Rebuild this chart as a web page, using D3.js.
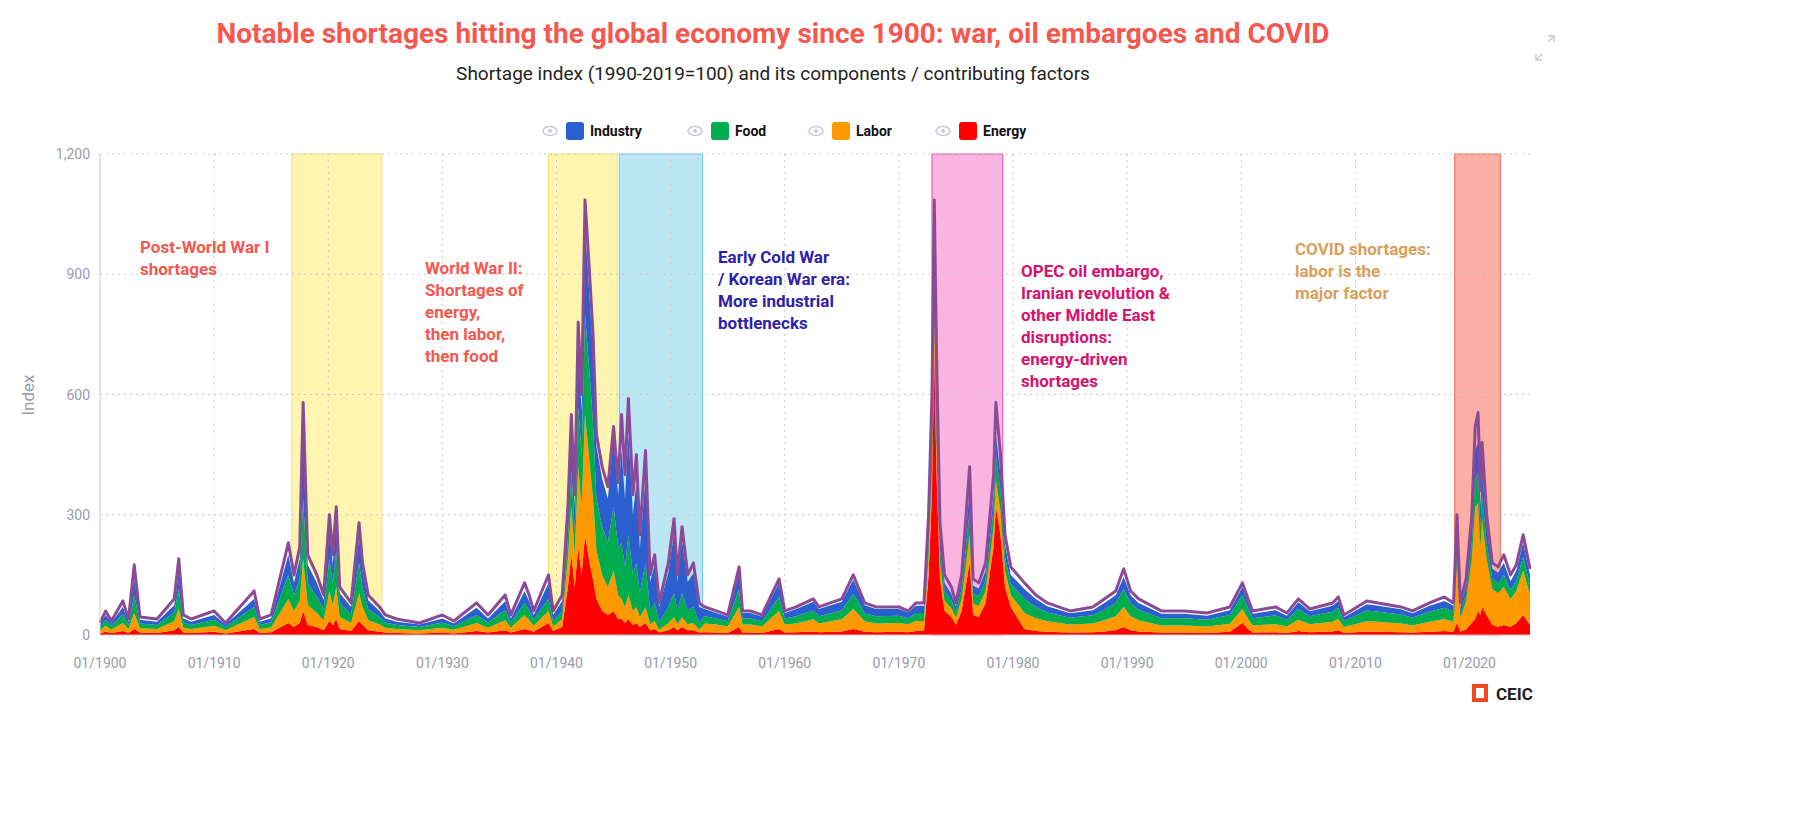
<!doctype html>
<html>
<head>
<meta charset="utf-8">
<style>
body { margin:0; background:#fff; font-family: Roboto, "Noto Sans", sans-serif; }
svg text { font-family: Roboto, "Noto Sans", sans-serif; }
</style>
<script src="https://cdn.jsdelivr.net/npm/d3@7"></script>
</head>
<body>
<svg id="chart" width="1812" height="830"></svg>
<script>
// decimal years of each point
var dates = [
  1900,1900.5,1901,1902,1902.5,1903,1903.5,1905,1906.5,1906.9,1907.3,1908,1910,1911,1913.5,1914,1915,1916.5,1917,1917.5,1917.8,1918.2,1919,1919.6,1920.1,1920.4,1920.7,1921,1922,1922.7,1923,1923.5,1924.5,1925,1926,1928,1930,1931,1933,1934,1935.5,1936,1937.2,1937.6,1938,
  1939.3,1939.7,1940.5,1941.0,1941.3,1941.6,1941.9,1942.2,1942.5,1942.9,1943.2,1943.5,1944,1944.5,1945,1945.4,
  1945.7,1946.0,1946.3,1946.7,1947.0,1947.3,1947.8,1948.2,1948.6,1949,1949.8,1950.3,1950.6,1951,1951.5,1952,1952.5,
  1953,1954,1955,1956.0,1956.3,1957,1958,1959.5,1960,1961,1962.5,1963,1965,1966,1967,1968,1970,1970.8,1971.5,1972.2,
  1972.6,1972.9,1973.1,1973.3,1973.6,1974.0,1974.6,1975,1975.5,1976.2,1976.5,1977,1977.6,1978.3,1978.5,1978.9,1979.3,1979.8,
  1981,1982,1983,1985,1987,1988,1989,1989.7,1990.3,1991,1993,1995,1997,1999,2000.1,2000.6,2001,2003,2004,2005,2006,2008,2008.5,2009,2011,2012,2014,2015,2016.5,2017.8,2018.6,
  2018.9,2019.2,2019.7,2020.2,2020.5,2020.75,2020.95,2021.1,2021.5,2022.0,2022.5,2023.0,2023.6,2024.1,2024.7,2025.3
];
var total = [
  30,60,35,85,40,175,45,40,90,190,50,40,60,30,110,40,50,230,150,220,580,200,150,100,300,200,320,120,80,280,180,100,70,50,40,30,50,35,80,50,100,50,130,100,60,
  150,60,100,320,550,350,780,600,1085,900,750,500,420,370,520,380,
  550,400,590,350,450,250,460,150,200,80,180,290,150,270,150,180,80,
  70,60,50,170,60,60,50,140,60,70,90,70,90,150,80,70,70,60,80,80,
  300,600,1085,700,280,150,120,80,150,420,140,130,180,400,580,450,250,170,
  130,100,80,60,70,90,110,165,110,90,60,60,55,70,130,90,60,70,55,90,65,80,95,50,85,80,70,60,80,95,80,
  300,80,140,300,520,555,360,480,300,180,170,200,150,175,250,165
];
var energy = [
  4,8,5,10,5,15,6,5,12,20,6,5,8,4,15,5,7,30,20,30,60,25,20,12,35,25,40,15,10,35,25,12,8,6,5,4,6,4,10,6,12,6,15,12,8,
  30,10,20,120,200,120,220,150,250,180,140,90,60,50,60,40,
  40,30,40,25,30,20,30,12,15,6,12,20,12,20,12,12,6,
  7,6,5,20,6,6,5,15,6,7,9,7,9,15,8,7,8,7,10,10,
  150,350,700,400,140,60,45,25,60,180,50,45,80,220,320,250,120,70,
  15,10,8,6,7,9,12,20,12,9,6,6,5,8,30,15,6,7,5,10,7,9,12,5,9,8,7,6,8,10,8,
  30,8,14,30,40,60,50,70,50,25,20,25,20,30,50,25
];
var labor = [
  8,15,9,20,10,40,11,10,22,45,12,10,15,8,30,10,12,60,40,55,130,50,35,25,75,50,80,30,20,70,45,25,18,12,10,8,12,9,20,12,25,12,35,25,15,
  30,12,20,70,120,80,200,170,300,250,200,120,90,70,100,60,
  50,40,60,35,40,25,40,15,20,8,18,25,15,25,15,18,8,
  22,20,16,50,20,20,16,45,20,22,30,22,30,50,26,22,22,20,25,25,
  40,70,100,80,40,25,22,18,30,70,28,28,30,50,70,60,40,30,
  40,32,26,20,22,28,35,50,35,28,18,18,16,20,35,25,18,20,16,28,20,24,28,15,25,25,22,18,25,30,25,
  150,35,70,160,280,270,170,220,140,90,85,95,70,80,110,75
];
var food = [
  8,15,9,22,10,45,12,10,22,50,13,10,15,8,25,10,13,60,40,55,150,55,40,28,80,55,90,35,22,75,50,28,18,13,10,8,13,9,20,13,25,13,30,25,15,
  30,12,20,50,90,60,150,130,250,220,190,130,120,110,160,120,
  140,100,150,90,110,60,110,35,45,18,40,60,35,60,35,40,18,
  18,15,13,45,15,15,13,35,15,18,22,18,22,38,20,18,18,15,20,20,
  40,60,80,70,35,25,20,16,25,60,25,25,28,45,60,50,35,28,
  35,28,22,17,20,26,32,45,32,26,18,18,17,22,35,26,18,22,17,27,20,25,28,15,27,25,22,19,25,28,25,
  40,12,20,40,70,75,50,60,40,25,25,30,22,25,35,25
];
var industry = [
  6,12,7,18,8,40,9,8,18,40,10,8,12,6,20,8,10,50,30,50,140,45,35,22,70,45,75,25,18,65,40,22,15,10,8,6,10,7,18,10,22,10,30,22,12,
  40,16,25,50,90,60,150,110,220,190,170,130,120,110,170,130,
  230,170,250,150,200,110,210,70,95,38,85,150,70,130,70,85,38,
  18,14,12,40,14,14,12,35,14,18,22,18,22,35,20,18,17,14,18,18,
  30,50,70,60,30,20,15,12,20,50,20,18,22,35,50,40,30,22,
  25,20,16,11,13,17,20,30,20,17,11,11,10,12,20,15,11,13,10,17,12,15,17,9,16,15,13,11,15,17,15,
  40,12,20,40,70,75,50,60,40,25,25,30,22,25,35,25
];
var seriesNames = ["Industry", "Food", "Labor", "Energy"];
var seriesColors = {Industry:"#2b5fd0", Food:"#00ad4e", Labor:"#ff9900", Energy:"#ff0000"};
var yTicks = [0, 300, 600, 900, 1200];
var xTicks = [1900,1910,1920,1930,1940,1950,1960,1970,1980,1990,2000,2010,2020];
var bands = [
  {from:1916.8, to:1924.7, fill:"#fff5b0", stroke:"#f7e36b"},
  {from:1939.3, to:1945.3, fill:"#fff5b0", stroke:"#f7e36b"},
  {from:1945.5, to:1952.8, fill:"#bde6f5", stroke:"#6ec6ea"},
  {from:1972.9, to:1979.1, fill:"#f9b4e0", stroke:"#e94fb5"},
  {from:2018.7, to:2022.7, fill:"#fcaea5", stroke:"#f06a5c"}
];
var notes = [
  {x:140, y:253, color:"#f6584f", lines:["Post-World War I","shortages"]},
  {x:425, y:274, color:"#f6584f", lines:["World War II:","Shortages of","energy,","then labor,","then food"]},
  {x:718, y:263, color:"#2e22a8", lines:["Early Cold War","/ Korean War era:","More industrial","bottlenecks"]},
  {x:1021, y:277, color:"#d6126e", lines:["OPEC oil embargo,","Iranian revolution &","other Middle East","disruptions:","energy-driven","shortages"]},
  {x:1295, y:255, color:"#d9a05b", lines:["COVID shortages:","labor is the","major factor"]}
];

var svg = d3.select("#chart");
var x = d3.scaleLinear().domain([1900, 2025.3]).range([100, 1530]);
var y = d3.scaleLinear().domain([0, 1200]).range([635, 154]);

svg.append("text").attr("x", 773).attr("y", 43).attr("text-anchor", "middle")
  .attr("font-size", 28).attr("font-weight", "bold").attr("fill", "#f6584f")
  .text("Notable shortages hitting the global economy since 1900: war, oil embargoes and COVID");
svg.append("text").attr("x", 773).attr("y", 80).attr("text-anchor", "middle")
  .attr("font-size", 19).attr("fill", "#222")
  .text("Shortage index (1990-2019=100) and its components / contributing factors");

// bands
svg.selectAll("rect.band").data(bands).enter().append("rect")
  .attr("x", function(d){ return x(d.from); }).attr("y", y(1200))
  .attr("width", function(d){ return x(d.to) - x(d.from); }).attr("height", y(0) - y(1200))
  .attr("fill", function(d){ return d.fill; }).attr("stroke", function(d){ return d.stroke; });

// grid
svg.selectAll("line.hg").data(yTicks.slice(1)).enter().append("line")
  .attr("x1", 100).attr("x2", 1530).attr("y1", y).attr("y2", y)
  .attr("stroke", "#ccc").attr("stroke-dasharray", "2,4");
svg.selectAll("line.vg").data(xTicks.slice(1)).enter().append("line")
  .attr("x1", x).attr("x2", x).attr("y1", y(1200)).attr("y2", y(0))
  .attr("stroke", "#ccc").attr("stroke-dasharray", "2,4");

// stacked areas
var rows = dates.map(function(d, i){
  return {date:d, Energy:energy[i], Labor:labor[i], Food:food[i], Industry:industry[i]};
});
var stack = d3.stack().keys(["Energy", "Labor", "Food", "Industry"]);
var area = d3.area().x(function(d){ return x(d.data.date); })
  .y0(function(d){ return y(d[0]); }).y1(function(d){ return y(d[1]); });
svg.selectAll("path.layer").data(stack(rows)).enter().append("path")
  .attr("d", area).attr("fill", function(d){ return seriesColors[d.key]; });

var line = d3.line().x(function(d, i){ return x(dates[i]); }).y(function(d){ return y(d); });
svg.append("path").datum(total).attr("d", line).attr("fill", "none")
  .attr("stroke", "#8a4a96").attr("stroke-width", 3).attr("stroke-linejoin", "round");

// axes
svg.append("line").attr("x1", 100).attr("x2", 100).attr("y1", y(1200)).attr("y2", y(0)).attr("stroke", "#ccc");
svg.append("line").attr("x1", 100).attr("x2", 1530).attr("y1", y(0)).attr("y2", y(0)).attr("stroke", "#ccc");
svg.selectAll("text.yt").data(yTicks).enter().append("text")
  .attr("x", 90).attr("y", function(d){ return y(d) + 5; }).attr("text-anchor", "end")
  .attr("font-size", 14).attr("fill", "#9a9aa8").text(d3.format(","));
svg.selectAll("text.xt").data(xTicks).enter().append("text")
  .attr("x", x).attr("y", 668).attr("text-anchor", "middle")
  .attr("font-size", 14).attr("fill", "#9a9aa8").text(function(d){ return "01/" + d; });
svg.append("text").attr("transform", "translate(34,395) rotate(-90)").attr("text-anchor", "middle")
  .attr("font-size", 17).attr("fill", "#9a9aa8").text("Index");

// notes
notes.forEach(function(n){
  var t = svg.append("text").attr("font-size", 17).attr("font-weight", "bold").attr("fill", n.color);
  n.lines.forEach(function(l, i){
    t.append("tspan").attr("x", n.x).attr("y", n.y + i * 22).text(l);
  });
});

// legend
var lx = [543, 688, 809, 936];
var lg = svg.selectAll("g.leg").data(seriesNames).enter().append("g")
  .attr("transform", function(d, i){ return "translate(" + lx[i] + ",131)"; });
lg.append("ellipse").attr("cx", 7).attr("cy", 0).attr("rx", 7).attr("ry", 4.5)
  .attr("fill", "none").attr("stroke", "#c8c8d4").attr("stroke-width", 1.5);
lg.append("circle").attr("cx", 7).attr("cy", 0).attr("r", 2).attr("fill", "#c8c8d4");
lg.append("rect").attr("x", 23).attr("y", -9).attr("width", 18).attr("height", 18).attr("rx", 3)
  .attr("fill", function(d){ return seriesColors[d]; });
lg.append("text").attr("x", 47).attr("y", 5).attr("font-size", 14).attr("font-weight", "bold")
  .attr("fill", "#111").text(function(d){ return d; });

// logo
var logo = svg.append("g").attr("transform", "translate(1472,684)");
logo.append("rect").attr("x", 0).attr("y", 0).attr("width", 16).attr("height", 18).attr("fill", "#f04a23");
logo.append("rect").attr("x", 4).attr("y", 4).attr("width", 8).attr("height", 10).attr("fill", "#fff");
logo.append("text").attr("x", 24).attr("y", 16).attr("font-size", 17).attr("font-weight", "bold")
  .attr("fill", "#222").text("CEIC");

// expand icon
svg.append("path").attr("d", "M1536,60 l6,-6 M1548,42 l6,-6 M1536,54 v6 h6 M1548,36 h6 v6")
  .attr("stroke", "#ccc").attr("stroke-width", 1.5).attr("fill", "none");
</script>
</body>
</html>
